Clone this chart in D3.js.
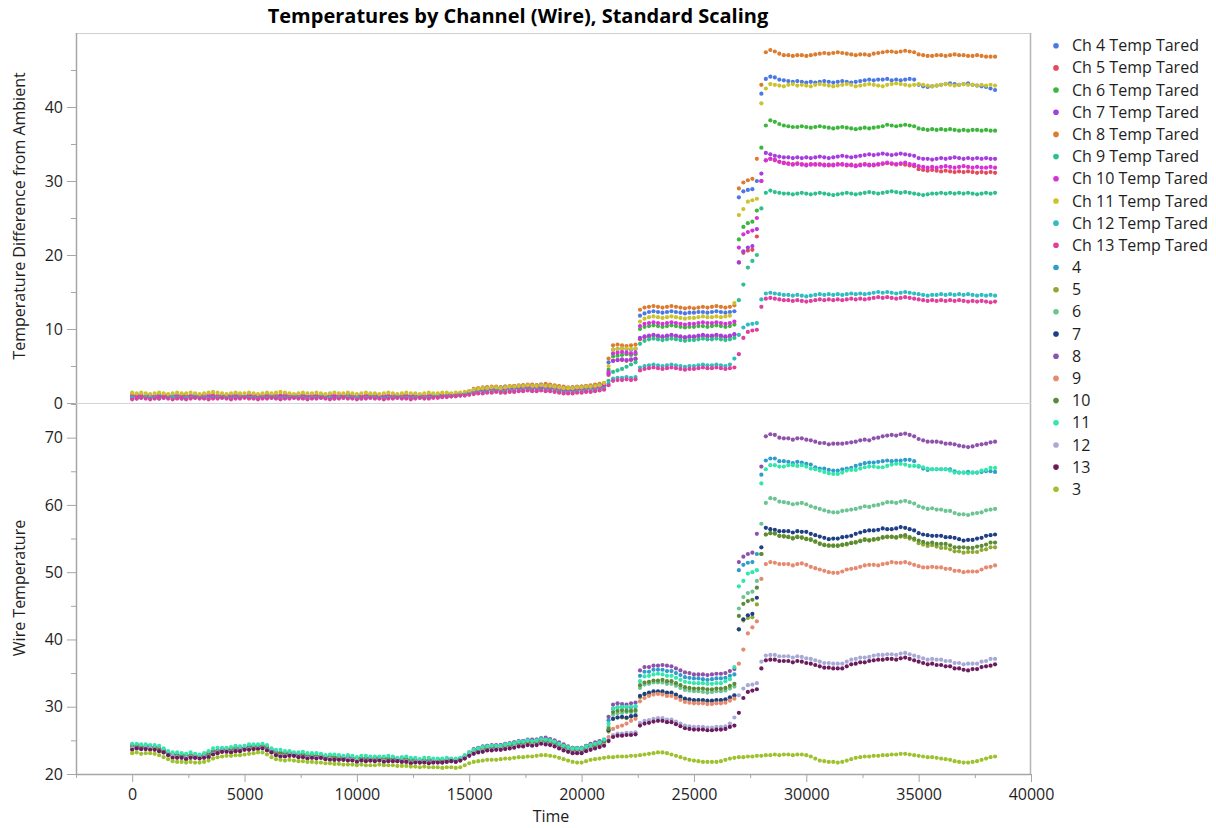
<!DOCTYPE html>
<html>
<head>
<meta charset="utf-8">
<script src="https://cdn.jsdelivr.net/npm/d3@7"></script>
<style>
  body { margin: 0; background: #fff; }
  svg text { font-family: "Open Sans", "Noto Sans", sans-serif; }
</style>
</head>
<body>
<svg id="chart" width="1216" height="828"></svg>
<script>
// Logged readings: one sample every 200 s, values stored in tenths of a degree.
const SAMPLE_STEP = 200;

const timeTicks = [0, 5000, 10000, 15000, 20000, 25000, 30000, 35000, 40000];
const timeMinorTicks = [-2500, 2500, 7500, 12500, 17500, 22500, 27500, 32500, 37500];
const taredTicks = [0, 10, 20, 30, 40];
const taredMinorTicks = [5, 15, 25, 35, 45];
const wireTicks = [20, 30, 40, 50, 60, 70];
const wireMinorTicks = [25, 35, 45, 55, 65, 75];

// Temperature difference from ambient (tenths of a degree)
const tared4 = [10,11,10,9,10,10,11,10,9,10, 10,10,11,10,9,10,10,11,10,10, 9,10,10,11,10,9,10,11,10,10, 10,11,10,10,9,10,10,11,10,9, 10,10,11,10,10,9,10,10,11,10, 10,9,10,10,11,10,10,10,9,10, 11,10,10,11,10,9,10,10,11,10, 11,12,11,12,13,15,18,19,20,21, 20,21,21,22,22,23,23,24,24,23, 24,25,24,24,23,22,21,20,21,21, 22,23,23,24,25,26,55,72,73,74, 73,72,73,118,121,123,124,123,122,123, 124,123,122,121,122,122,123,123,122,123, 124,123,122,123,124,278,286,288,289,300, 418,438,441,440,437,436,435,434,435,434, 433,434,433,434,435,434,433,434,435,434, 433,434,435,436,437,436,437,437,438,436, 437,436,437,438,437,430,428,427,428,429, 430,431,432,431,430,431,432,430,429,428, 427,425,423];
const tared5 = [7,8,8,9,8,7,8,8,9,8, 7,8,8,8,9,8,7,8,8,9, 8,8,7,8,9,8,8,7,8,8, 9,8,8,7,8,8,9,8,7,8, 8,9,8,8,7,8,8,9,8,8, 7,8,9,8,8,7,8,8,9,8, 8,7,8,9,8,8,7,8,9,9, 10,9,10,11,12,13,15,16,17,17, 18,18,17,18,19,19,20,20,21,20, 20,21,20,20,19,18,17,17,17,18, 18,19,19,20,21,22,38,57,58,58, 57,58,59,86,89,90,91,90,89,90, 91,90,89,88,89,89,90,91,90,90, 91,90,89,90,92,190,203,206,207,225, 300,328,330,328,326,325,324,323,324,323, 322,323,322,323,322,321,322,323,322,321, 322,321,322,323,322,321,322,323,324,323, 322,323,322,321,320,316,315,314,315,314, 313,314,313,312,313,312,313,312,311,312, 311,312,311];
const tared6 = [9,10,9,8,9,9,10,9,8,9, 9,10,9,9,8,9,10,9,9,8, 9,10,9,8,9,9,10,9,9,10, 9,8,9,10,9,9,8,9,10,9, 9,9,10,9,8,9,9,10,9,9, 8,9,10,9,9,9,8,9,10,9, 9,10,9,8,9,9,10,9,10,10, 11,10,11,12,13,14,16,17,18,19, 18,19,20,19,20,21,21,22,22,21, 22,23,22,22,21,20,19,18,19,19, 20,21,21,22,23,24,45,63,64,65, 66,65,66,100,103,104,105,104,103,104, 105,104,103,102,103,103,104,104,103,104, 105,104,103,104,106,221,238,243,245,260, 345,375,382,380,377,375,374,373,373,374, 373,372,373,374,373,372,371,372,373,372, 371,370,371,372,371,372,373,374,376,375, 374,375,376,375,374,371,370,369,370,369, 370,369,370,369,368,369,368,369,369,368, 369,368,368];
const tared7 = [8,7,8,9,8,8,7,8,9,8, 8,8,7,8,9,8,8,7,8,8, 9,8,7,8,8,9,8,8,7,8, 8,9,8,8,7,8,9,8,8,8, 7,8,9,8,8,7,8,8,9,8, 8,7,8,8,9,8,8,7,8,9, 8,8,7,8,8,9,8,8,9,9, 10,10,11,11,12,13,15,16,17,17, 18,18,17,18,19,19,20,20,21,20, 20,21,20,20,19,18,17,17,17,18, 18,19,20,20,21,22,40,57,58,59, 58,59,60,88,90,91,92,91,90,91, 92,91,90,89,90,90,91,92,91,91, 92,91,90,91,93,190,205,210,212,235, 310,338,336,334,333,332,332,331,332,331, 332,331,332,333,332,331,332,333,334,333, 332,333,334,335,336,335,336,337,336,335, 336,337,336,335,334,331,330,330,329,330, 331,330,331,332,331,330,331,330,331,330, 331,330,330];
const tared8 = [12,11,10,11,10,9,10,11,10,9, 10,11,10,10,9,10,11,12,11,10, 10,9,10,11,10,10,11,10,9,10, 11,10,10,11,12,11,10,10,9,10, 11,10,10,9,10,11,10,10,11,10, 9,10,10,11,10,10,9,10,11,10, 10,11,10,9,10,10,11,10,10,11, 12,11,12,13,14,16,19,20,21,21, 22,22,21,22,23,23,24,24,25,25, 24,25,26,25,24,23,22,21,21,22, 22,23,24,25,26,27,60,78,79,78, 77,78,79,126,129,130,131,130,129,130, 131,130,129,128,129,128,129,130,129,130, 131,130,129,130,132,290,298,301,303,330, 430,474,477,475,472,470,470,469,470,470, 469,470,471,472,473,472,473,474,473,472, 471,470,471,471,470,472,473,474,475,475, 474,475,476,475,474,471,470,469,469,470, 470,469,470,471,470,470,469,469,470,469, 468,468,468];
const tared9 = [8,9,8,7,8,8,9,8,8,7, 8,9,8,8,7,8,8,9,8,8, 7,8,8,9,8,8,7,8,9,8, 8,7,8,8,9,8,7,8,8,9, 8,8,7,8,8,9,8,8,7,8, 9,8,8,7,8,8,9,8,8,7, 8,9,8,8,7,8,8,9,8,9, 9,10,10,11,12,13,15,16,16,17, 17,18,17,17,18,18,19,19,20,19, 19,20,19,19,18,17,16,16,16,17, 17,18,18,19,20,21,30,42,44,46, 49,52,55,80,84,86,87,86,85,86, 87,86,85,84,85,85,86,87,86,86, 87,86,85,86,88,139,160,183,192,200, 263,284,287,285,284,283,283,282,283,284, 283,282,283,284,283,282,281,282,283,284, 283,282,283,284,285,284,283,284,285,286, 285,284,285,284,283,282,281,282,283,283, 284,283,284,283,284,283,284,283,282,283, 284,283,284];
const tared10 = [8,9,8,9,10,9,8,9,9,10, 9,8,9,9,10,9,8,9,9,8, 9,10,9,9,8,9,9,10,9,8, 9,9,8,9,10,9,9,8,9,9, 10,9,8,9,9,10,9,9,8,9, 9,10,9,8,9,9,10,9,9,8, 9,9,10,9,8,9,9,10,9,10, 10,11,11,12,12,14,16,17,18,18, 19,19,18,19,20,20,21,21,22,21, 21,22,21,21,20,19,18,18,18,19, 19,20,21,21,22,24,42,67,68,69, 68,67,68,104,107,108,109,108,107,108, 109,108,107,106,107,107,108,109,108,108, 109,108,107,108,110,210,228,231,233,250, 300,328,330,329,326,324,323,322,323,322, 321,322,323,322,321,322,321,322,323,322, 321,320,321,322,321,322,323,324,325,324, 323,324,325,323,322,320,319,318,319,318, 319,320,319,318,319,320,319,318,319,318, 318,319,318];
const tared11 = [14,13,14,13,12,13,14,13,12,13, 14,13,13,14,13,12,13,14,15,14, 13,12,13,14,13,13,14,13,12,13, 14,13,14,15,14,13,12,13,14,13, 13,14,13,12,13,14,13,13,14,13, 12,13,14,13,13,12,13,14,13,12, 13,14,13,13,12,13,14,13,13,14, 14,13,14,14,15,16,18,19,20,20, 21,21,20,21,22,22,23,23,24,23, 23,24,23,23,22,21,20,20,20,21, 21,22,22,23,24,27,50,72,73,74, 74,73,74,110,114,116,117,116,115,116, 117,116,115,114,115,115,116,117,116,116, 117,116,117,118,135,254,262,272,274,276, 405,425,431,430,429,428,430,431,429,430, 429,428,430,431,430,429,428,429,430,431, 430,428,429,430,431,430,429,428,430,431, 432,431,430,429,430,431,430,429,428,429, 430,431,430,429,430,431,430,430,429,430, 429,430,429];
const tared12 = [7,6,7,8,7,7,6,7,7,8, 7,6,7,7,8,7,7,6,7,7, 8,7,6,7,7,8,7,7,6,7, 7,8,7,6,7,7,8,7,7,6, 7,7,8,7,7,6,7,7,8,7, 7,6,7,8,7,7,6,7,7,8, 7,7,6,7,8,7,7,8,8,8, 9,9,10,10,11,12,13,14,14,15, 15,16,15,15,16,16,17,17,18,17, 17,18,17,17,16,15,14,14,14,15, 15,16,16,17,18,19,26,33,34,34, 35,34,35,48,50,51,52,51,50,51, 52,51,50,49,50,50,51,52,51,51, 52,51,50,52,60,92,102,106,107,108, 140,148,149,148,147,146,146,145,146,145, 144,145,146,147,146,147,146,147,146,147, 148,147,148,147,148,149,150,149,150,149, 148,149,150,149,148,147,146,145,146,146, 147,146,147,146,147,146,147,146,145,146, 145,146,145];
const tared13 = [5,6,7,6,5,6,6,7,6,5, 6,6,5,6,7,6,6,5,6,6, 7,6,5,6,6,7,6,6,5,6, 6,7,6,5,6,6,7,6,6,5, 6,6,7,6,5,6,6,7,6,6, 5,6,6,7,6,6,5,6,6,7, 6,6,5,6,7,6,6,7,7,8, 8,9,9,10,10,11,12,13,13,14, 14,15,14,14,15,15,16,16,17,16, 16,17,16,16,15,14,13,13,13,14, 14,15,15,16,17,18,24,30,31,31, 32,31,32,44,46,47,48,47,46,47, 48,47,46,45,46,46,47,48,47,47, 48,47,46,47,48,66,88,96,98,99, 130,141,142,141,140,139,139,138,139,138, 137,138,139,140,139,140,139,140,139,140, 141,140,141,140,141,142,143,142,143,142, 141,142,143,142,141,140,139,138,139,138, 139,138,139,138,139,138,137,138,137,138, 137,136,137];

// Wire temperatures (tenths of a degree)
const wire4 = [241,243,240,240,241,240,239,235,231,229, 228,228,228,228,226,227,228,231,233,235, 235,237,237,239,238,238,240,242,242,242, 239,236,232,231,229,231,230,230,229,227, 228,227,228,226,226,224,225,224,225,224, 223,223,223,223,224,224,223,223,222,222, 223,222,221,222,220,220,220,220,221,219, 221,222,220,222,226,231,236,238,240,242, 241,242,243,245,245,247,248,249,250,249, 251,253,252,251,249,246,243,240,239,238, 239,242,244,246,248,250,280,297,299,300, 299,299,300,346,352,352,355,355,355,353, 353,350,347,344,343,342,342,341,340,341, 342,342,343,346,348,503,511,514,515,527, 645,666,669,669,665,665,664,662,664,663, 661,660,656,654,654,652,651,651,653,654, 655,658,660,662,663,663,664,665,666,665, 666,666,667,667,665,657,654,652,653,653, 653,653,653,650,648,648,649,648,648,649, 650,650,649];
const wire5 = [238,240,238,240,239,237,236,233,231,227, 225,226,225,226,226,225,225,228,231,234, 234,235,234,236,237,237,238,238,240,240, 238,233,230,228,228,229,229,227,226,226, 226,226,225,224,223,223,223,223,222,222, 220,222,222,221,221,221,221,221,222,220, 220,219,219,220,218,219,217,218,219,218, 220,219,219,221,225,229,233,235,237,238, 239,239,239,241,242,243,245,245,247,246, 247,249,248,247,245,242,239,237,235,235, 235,238,240,242,244,246,263,282,284,284, 283,285,286,314,318,319,321,321,321,320, 320,317,314,311,310,309,309,309,308,308, 309,309,310,313,316,415,428,432,433,452, 527,556,558,557,554,554,553,551,553,552, 550,549,545,543,541,539,540,540,540,541, 544,545,547,549,548,548,549,551,552,552, 551,553,552,550,548,543,541,539,540,538, 536,536,534,531,531,529,530,530,530,533, 534,537,537];
const wire6 = [240,242,239,239,240,239,238,234,230,228, 227,228,226,227,225,226,228,229,232,233, 235,237,236,236,237,238,240,240,241,242, 238,233,231,231,229,230,228,228,229,227, 227,226,227,225,224,224,224,224,223,223, 221,223,223,222,222,223,221,222,223,221, 221,222,220,219,219,220,220,219,220,219, 221,220,220,222,226,230,234,236,238,240, 239,240,242,242,243,245,246,247,248,247, 249,251,250,249,247,244,241,238,237,236, 237,240,242,244,246,248,270,288,290,291, 292,292,293,328,333,334,336,336,336,334, 334,331,328,325,324,323,323,322,321,322, 323,323,324,327,330,446,463,469,471,487, 572,603,610,609,605,604,603,601,602,603, 601,598,596,594,592,590,589,589,591,592, 593,594,596,598,597,599,600,602,604,604, 603,605,606,604,602,598,596,594,595,593, 593,591,591,588,586,586,585,587,588,589, 592,593,594];
const wire7 = [239,239,238,240,239,238,235,233,231,227, 226,226,224,226,226,225,226,227,231,233, 235,235,234,236,236,238,238,239,239,240, 237,234,230,229,227,229,229,227,227,226, 225,225,226,224,224,222,223,222,223,222, 221,221,221,221,222,222,221,220,221,221, 220,220,218,219,218,220,218,218,219,218, 220,220,220,221,225,229,233,235,237,238, 239,239,239,241,242,243,245,245,247,246, 247,249,248,247,245,242,239,237,235,235, 235,238,241,242,244,246,265,282,284,285, 284,286,287,316,319,321,323,323,323,321, 321,318,315,312,311,310,310,310,309,309, 310,310,311,314,317,415,430,436,438,462, 537,566,564,563,561,561,561,559,561,560, 560,557,555,553,551,549,550,550,552,553, 554,557,559,561,562,562,563,565,564,564, 565,567,566,564,562,558,556,555,554,554, 554,552,552,551,549,547,548,548,550,551, 554,555,556];
const wire8 = [243,243,240,242,241,239,238,236,232,228, 228,229,227,228,226,227,229,232,234,235, 236,236,237,239,238,239,241,241,241,242, 240,235,232,232,232,232,230,229,228,228, 229,227,227,225,226,226,225,224,225,224, 222,224,223,224,223,224,222,223,224,222, 222,223,221,220,220,221,221,220,220,220, 222,221,221,223,227,232,237,239,241,242, 243,243,243,245,246,247,249,249,251,251, 251,253,254,252,250,247,244,241,239,239, 239,242,245,247,249,251,285,303,305,304, 303,305,306,354,359,359,361,361,362,361, 360,357,354,351,350,348,348,348,347,348, 349,349,350,353,356,515,523,527,529,557, 657,702,705,704,700,699,699,697,699,699, 697,696,694,692,692,690,691,691,691,692, 693,694,696,697,696,699,700,702,703,704, 703,705,706,704,702,698,696,694,694,694, 693,691,691,690,688,687,686,687,689,690, 691,693,694];
const wire9 = [239,241,238,238,239,238,237,233,230,226, 226,227,225,226,224,225,226,229,231,233, 233,235,235,237,236,237,237,239,241,240, 237,232,230,229,229,229,227,227,227,227, 226,225,224,224,224,224,223,222,221,222, 222,222,221,220,221,222,222,221,221,219, 220,221,219,219,217,219,218,219,218,218, 219,220,219,221,225,229,233,235,236,238, 238,239,239,240,241,242,244,244,246,245, 246,248,247,246,244,241,238,236,234,234, 234,237,239,241,243,245,255,267,270,272, 275,279,282,308,313,316,318,319,318,316, 316,313,310,307,306,305,305,305,304,304, 305,305,306,309,312,364,385,409,418,427, 490,512,515,514,512,512,512,510,512,513, 511,508,506,504,502,500,499,499,501,504, 505,506,508,510,511,511,510,512,513,515, 514,514,515,513,511,509,507,507,508,507, 507,505,505,502,502,500,501,501,501,504, 507,508,510];
const wire10 = [239,241,238,240,241,239,236,234,231,229, 227,226,226,227,227,226,226,229,232,233, 235,237,236,237,236,238,239,241,241,240, 238,234,230,230,230,230,229,227,228,227, 228,226,225,225,225,225,224,223,222,223, 222,224,222,221,222,223,223,222,222,220, 221,221,221,220,218,220,219,220,219,219, 220,221,220,222,225,230,234,236,238,239, 240,240,240,242,243,244,246,246,248,247, 248,250,249,248,246,243,240,238,236,236, 236,239,242,243,245,248,267,292,294,295, 294,294,295,332,336,337,339,339,340,338, 338,335,332,329,328,327,327,327,326,326, 327,327,328,331,334,435,453,457,459,477, 527,556,558,558,554,553,552,550,552,551, 549,548,546,542,540,540,539,539,541,542, 543,544,546,548,547,549,550,552,553,553, 552,554,555,552,550,547,545,543,544,542, 542,542,540,537,537,537,536,536,538,539, 541,544,544];
const wire11 = [245,245,244,244,243,243,242,238,234,232, 232,231,230,232,230,229,231,234,238,239, 239,239,240,242,241,242,244,244,244,245, 243,238,236,236,234,234,232,232,233,231, 231,231,230,228,229,229,228,227,228,227, 225,227,227,226,226,226,226,227,226,224, 225,226,224,224,222,224,224,223,223,223, 224,223,223,224,228,232,236,238,240,241, 242,242,242,244,245,246,248,248,250,249, 250,252,251,250,248,245,242,240,238,238, 238,241,243,245,247,251,275,297,299,300, 300,300,301,338,345,346,348,349,348,346, 346,343,340,337,336,335,335,335,334,334, 335,335,338,341,359,479,487,498,500,503, 632,653,659,659,657,657,659,659,658,659, 657,654,653,651,649,647,646,646,648,651, 652,652,654,656,657,657,656,656,658,660, 661,661,660,658,658,658,656,654,653,653, 653,653,651,648,648,648,647,648,648,651, 652,655,655];
const wire12 = [238,238,237,239,238,237,234,232,229,227, 225,224,224,225,225,224,225,226,230,232, 234,234,233,235,235,237,237,238,238,239, 236,233,229,227,227,228,228,226,226,224, 225,224,225,223,223,221,222,221,222,221, 220,220,220,221,220,221,219,220,220,220, 219,219,217,218,218,218,217,218,218,217, 219,219,219,220,224,228,231,233,234,236, 236,237,237,238,239,240,242,242,244,243, 244,246,245,244,242,239,236,234,232,232, 232,235,237,239,241,243,251,258,260,260, 261,261,262,276,279,280,282,283,283,281, 281,278,275,272,271,270,270,270,269,269, 270,270,271,275,284,317,327,332,333,335, 367,376,377,377,375,375,375,373,375,374, 372,371,369,367,365,365,364,364,364,367, 370,371,373,373,374,376,377,377,378,378, 377,379,380,378,376,374,372,370,371,370, 370,368,368,365,365,363,364,364,364,367, 368,371,371];
const wire13 = [236,238,237,237,236,236,234,232,228,224, 224,224,222,224,224,223,224,225,229,231, 233,233,232,234,234,236,236,237,237,238, 235,232,228,226,226,227,227,225,225,223, 224,223,224,222,221,221,221,221,220,220, 218,220,219,220,219,220,218,219,219,219, 218,218,216,217,217,217,216,217,217,217, 218,219,218,220,223,227,230,232,233,235, 235,236,236,237,238,239,241,241,243,242, 243,245,244,243,241,238,235,233,231,231, 231,234,236,238,240,242,249,255,257,257, 258,258,259,272,275,276,278,279,279,277, 277,274,271,268,267,266,266,266,265,265, 266,266,267,270,272,291,313,322,324,326, 357,369,370,370,368,368,368,366,368,367, 365,364,362,360,358,358,357,357,357,360, 363,364,366,366,368,369,370,370,371,371, 370,372,373,371,369,367,365,363,364,362, 362,360,360,357,357,355,354,356,356,359, 360,361,363];
const wire3 = [231,232,230,231,231,230,228,225,222,219, 218,218,217,218,217,217,218,220,223,225, 226,227,227,228,228,229,230,231,232,232, 229,225,222,221,220,221,220,219,219,218, 218,217,217,216,216,215,215,214,214,214, 213,214,213,213,213,214,213,213,213,212, 212,212,211,211,210,211,210,210,210,209, 210,210,209,210,213,216,218,219,220,221, 221,221,222,223,223,224,225,225,226,226, 227,228,228,227,226,224,222,220,218,217, 217,219,221,222,223,224,225,225,226,226, 226,227,227,228,229,230,231,232,232,231, 229,227,225,223,221,220,219,218,218,218, 218,219,221,223,224,225,225,226,226,227, 227,228,228,229,228,229,229,228,229,229, 228,226,223,220,219,218,218,217,218,220, 222,224,225,226,226,227,227,228,228,229, 229,230,230,229,228,227,226,225,225,224, 223,222,221,219,218,217,217,218,219,221, 223,225,226];

const taredNames = ["Ch 4 Temp Tared", "Ch 5 Temp Tared", "Ch 6 Temp Tared", "Ch 7 Temp Tared", "Ch 8 Temp Tared",
  "Ch 9 Temp Tared", "Ch 10 Temp Tared", "Ch 11 Temp Tared", "Ch 12 Temp Tared", "Ch 13 Temp Tared"];
const taredColors = ["#4a78e4", "#e14b5c", "#3cb63c", "#a53ddf", "#db7c2e", "#2ebf8e", "#d631da", "#cbc22e", "#2ebdc0", "#e03f9d"];
const wireNames = ["4", "5", "6", "7", "8", "9", "10", "11", "12", "13", "3"];
const wireColors = ["#2e9dcb", "#8ea833", "#6cc493", "#1f3e86", "#8e52aa", "#e5896f", "#5b8b36", "#33e6ab", "#a8aad6", "#6b1c5e", "#9ec22e"];

const taredSeries = [tared4, tared5, tared6, tared7, tared8, tared9, tared10, tared11, tared12, tared13]
  .map((values, i) => ({ name: taredNames[i], color: taredColors[i], values }));
const wireSeries = [wire4, wire5, wire6, wire7, wire8, wire9, wire10, wire11, wire12, wire13, wire3]
  .map((values, i) => ({ name: wireNames[i], color: wireColors[i], values }));

const svg = d3.select("#chart");
const plotLeft = 76, plotRight = 1031;
const topPanel = { top: 33, bottom: 403 };
const bottomPanel = { top: 404, bottom: 774 };

const x = d3.scaleLinear().domain([-2500, 40000]).range([plotLeft, plotRight]);
const yTared = d3.scaleLinear().domain([0, 50]).range([topPanel.bottom, topPanel.top]);
const yWire = d3.scaleLinear().domain([20, 75]).range([bottomPanel.bottom, bottomPanel.top]);

const axisColor = "#a6a6a6";
const textColor = "#1e1e1e";

// Title
svg.append("text")
  .attr("x", 518).attr("y", 23)
  .attr("text-anchor", "middle")
  .attr("font-size", 20).attr("font-weight", 700)
  .attr("fill", "#000")
  .text("Temperatures by Channel (Wire), Standard Scaling");

// Panel frames
const frame = svg.append("g").attr("fill", "none");
frame.append("line").attr("x1", plotLeft).attr("x2", plotRight).attr("y1", topPanel.top + 0.5).attr("y2", topPanel.top + 0.5).attr("stroke", "#cfcfcf");
frame.append("line").attr("x1", plotRight - 0.5).attr("x2", plotRight - 0.5).attr("y1", topPanel.top).attr("y2", bottomPanel.bottom).attr("stroke", "#b5b5b5").attr("stroke-width", 1.5);
frame.append("line").attr("x1", plotLeft).attr("x2", plotRight).attr("y1", topPanel.bottom + 0.5).attr("y2", topPanel.bottom + 0.5).attr("stroke", "#d4d4d4");

function styleAxis(g) {
  g.select(".domain").remove();
  g.selectAll(".tick line").attr("stroke", axisColor);
  g.selectAll(".tick text").attr("fill", textColor).attr("font-size", 16)
    .attr("font-family", '"Open Sans", "Noto Sans", sans-serif');
}

// Y axes
function drawYAxis(scale, major, minor, panel) {
  svg.append("g").attr("transform", `translate(${plotLeft},0)`)
    .call(d3.axisLeft(scale).tickValues(minor).tickSize(5).tickFormat(""))
    .call(styleAxis);
  svg.append("g").attr("transform", `translate(${plotLeft},0)`)
    .call(d3.axisLeft(scale).tickValues(major).tickSize(9).tickPadding(4).tickFormat(d3.format("d")))
    .call(styleAxis);
  svg.append("line").attr("x1", plotLeft + 0.5).attr("x2", plotLeft + 0.5)
    .attr("y1", panel.top).attr("y2", panel.bottom).attr("stroke", axisColor).attr("stroke-width", 1.5);
}
drawYAxis(yTared, taredTicks, taredMinorTicks, topPanel);
drawYAxis(yWire, wireTicks, wireMinorTicks, bottomPanel);

// X axis
svg.append("g").attr("transform", `translate(0,${bottomPanel.bottom})`)
  .call(d3.axisBottom(x).tickValues(timeMinorTicks).tickSize(4).tickFormat(""))
  .call(styleAxis);
svg.append("g").attr("transform", `translate(0,${bottomPanel.bottom})`)
  .call(d3.axisBottom(x).tickValues(timeTicks).tickSize(8).tickPadding(7).tickFormat(d3.format("d")))
  .call(styleAxis);
svg.append("line").attr("x1", plotLeft).attr("x2", plotRight)
  .attr("y1", bottomPanel.bottom + 0.5).attr("y2", bottomPanel.bottom + 0.5)
  .attr("stroke", axisColor).attr("stroke-width", 1.5);

// Axis titles
svg.append("text").attr("transform", "translate(25,216) rotate(-90)")
  .attr("text-anchor", "middle").attr("font-size", 16).attr("fill", textColor)
  .text("Temperature Difference from Ambient");
svg.append("text").attr("transform", "translate(25,588) rotate(-90)")
  .attr("text-anchor", "middle").attr("font-size", 16).attr("fill", textColor)
  .text("Wire Temperature");
svg.append("text").attr("x", 551).attr("y", 822)
  .attr("text-anchor", "middle").attr("font-size", 16).attr("fill", textColor)
  .text("Time");

// Points
function drawPoints(series, yScale) {
  const g = svg.append("g");
  series.forEach(s => {
    g.append("g").attr("fill", s.color)
      .selectAll("circle")
      .data(s.values)
      .join("circle")
      .attr("cx", (d, i) => x(i * SAMPLE_STEP))
      .attr("cy", d => yScale(d / 10))
      .attr("r", 2.1);
  });
}
drawPoints(taredSeries, yTared);
drawPoints(wireSeries, yWire);

// Legend
const legendItems = taredSeries.concat(wireSeries);
const legend = svg.append("g");
const rowY = d3.scaleLinear().domain([0, legendItems.length - 1]).range([45.7, 489.3]);
legendItems.forEach((s, i) => {
  legend.append("circle").attr("cx", 1056).attr("cy", rowY(i)).attr("r", 2.8).attr("fill", s.color);
  legend.append("text").attr("x", 1072).attr("y", rowY(i) + 5.6)
    .attr("font-size", 16).attr("fill", textColor).text(s.name);
});
</script>
</body>
</html>
